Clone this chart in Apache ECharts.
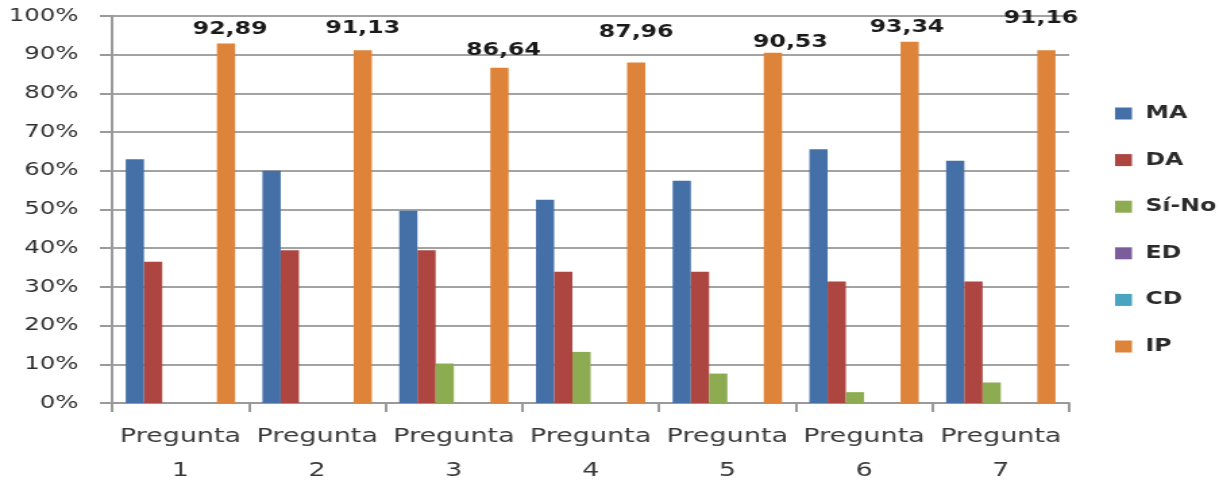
<!DOCTYPE html>
<html>
<head>
<meta charset="utf-8">
<script src="https://cdn.jsdelivr.net/npm/echarts@6/dist/echarts.min.js"></script>
<style>
  html, body { margin: 0; padding: 0; background: #fff; overflow: hidden; }
  #wrap { width: 1219px; height: 483px; overflow: hidden; }
  /* chart is laid out narrower and widened, giving the broad lettering */
  #chart { width: 903px; height: 483px; transform: scaleX(1.34995); transform-origin: 0 0; }
</style>
</head>
<body>
<div id="wrap"><div id="chart"></div></div>
<script>
// Categories and series values (percent)
const categories = ['Pregunta\n1', 'Pregunta\n2', 'Pregunta\n3', 'Pregunta\n4', 'Pregunta\n5', 'Pregunta\n6', 'Pregunta\n7'];
const seriesNames = ['MA', 'DA', 'Sí-No', 'ED', 'CD', 'IP'];
const valuesMA = [63, 60, 49.7, 52.5, 57.4, 65.6, 62.6];
const valuesDA = [36.5, 39.5, 39.5, 33.9, 33.9, 31.4, 31.4];
const valuesSiNo = [0, 0, 10.2, 13.2, 7.6, 2.8, 5.3];
const valuesED = [0, 0, 0, 0, 0, 0, 0];
const valuesCD = [0, 0, 0, 0, 0, 0, 0];
const valuesIP = [92.89, 91.13, 86.64, 87.96, 90.53, 93.34, 91.16];
const yMin = 0, yMax = 100, yStep = 10;

const colors = ['#4470a7', '#ad4541', '#8dab51', '#7b5d9b', '#49a4bf', '#de833a'];
const FONT = 'DejaVu Sans';

// small per-label nudges for the IP value labels [dx, dy]
const ipLabelNudge = [[3, 0], [0, -8], [3, -3], [0, -16], [13, 4], [-2, 0], [-4, -18]];

const seriesData = [valuesMA, valuesDA, valuesSiNo, valuesED, valuesCD, valuesIP];

const series = seriesNames.map((name, i) => {
  const s = {
    name: name,
    type: 'bar',
    barGap: '0%',
    barCategoryGap: '20%',
    itemStyle: { color: colors[i] },
    data: seriesData[i].slice()
  };
  if (name === 'IP') {
    s.data = seriesData[i].map((v, k) => ({
      value: v,
      label: { offset: ipLabelNudge[k] }
    }));
    s.label = {
      show: true,
      position: 'top',
      distance: 5,
      fontFamily: FONT,
      fontWeight: 'bold',
      fontSize: 17.5,
      color: '#1a1a1a',
      formatter: p => p.value.toFixed(2).replace('.', ',')
    };
  }
  return s;
});

const chart = echarts.init(document.getElementById('chart'), null, { renderer: 'canvas' });
chart.setOption({
  animation: false,
  color: colors,
  textStyle: { fontFamily: FONT },
  grid: { left: 83, right: 111, top: 16, bottom: 80, containLabel: false, outerBoundsMode: 'none' },
  legend: {
    orient: 'vertical',
    left: 821,
    top: 98.5,
    itemWidth: 12.5,
    itemHeight: 12,
    itemGap: 26.6,
    icon: 'rect',
    data: seriesNames,
    textStyle: {
      fontFamily: FONT,
      fontSize: 17.5,
      fontWeight: 'bold',
      color: '#2b2b2b',
      lineHeight: 20,
      padding: [0, 0, 0, 5]
    }
  },
  xAxis: {
    type: 'category',
    data: categories,
    axisLine: { show: true, lineStyle: { color: '#9a9a9a', width: 2 } },
    axisTick: { show: true, length: 9, lineStyle: { color: '#9a9a9a', width: 2 } },
    axisLabel: {
      fontFamily: FONT,
      fontSize: 20,
      lineHeight: 34,
      margin: 17,
      color: '#3a3a3a',
      interval: 0
    }
  },
  yAxis: {
    type: 'value',
    min: yMin,
    max: yMax,
    interval: yStep,
    axisLine: { show: true, lineStyle: { color: '#9a9a9a', width: 2 } },
    axisTick: { show: true, length: 9, lineStyle: { color: '#9a9a9a', width: 2 } },
    splitLine: { show: true, lineStyle: { color: '#a3a3a3', width: 2 } },
    axisLabel: {
      fontFamily: FONT,
      fontSize: 18,
      margin: 25,
      color: '#2e2e2e',
      formatter: '{value}%'
    }
  },
  series: series
});
</script>
</body>
</html>
